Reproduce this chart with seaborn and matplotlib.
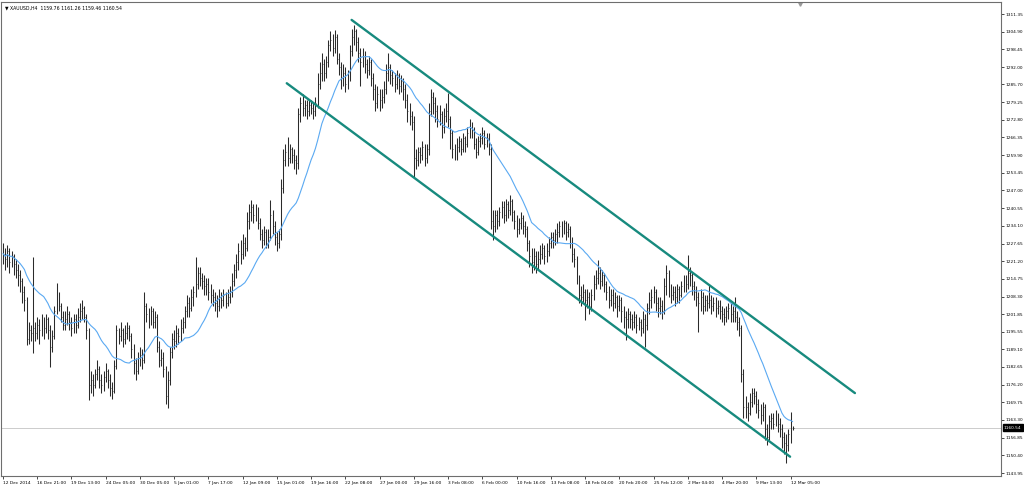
import numpy as np
import pandas as pd
import seaborn as sns
import matplotlib.pyplot as plt
from matplotlib.transforms import blended_transform_factory

# XAUUSD H4 bars, 12 Dec 2014 -> 12 Mar 2015
closes = [
    1224, 1222, 1225, 1221, 1223, 1220, 1218, 1216, 1214, 1210,
    1207, 1193, 1196, 1195, 1197, 1195, 1198, 1196, 1199, 1197,
    1200, 1196, 1190, 1194, 1203, 1209, 1205, 1201, 1198, 1200,
    1202, 1199, 1197, 1200, 1198, 1201, 1203, 1204, 1201, 1196,
    1176, 1178, 1176, 1180, 1182, 1178, 1176, 1179, 1181, 1178,
    1175, 1174, 1183, 1196, 1194, 1196, 1193, 1195, 1197, 1194,
    1189, 1184, 1181, 1186, 1187, 1185, 1205, 1202, 1200, 1203,
    1199, 1201, 1190, 1185, 1186, 1182, 1172, 1178, 1188, 1193,
    1192, 1195, 1194, 1197, 1199, 1203, 1206, 1204, 1208, 1210,
    1213, 1217, 1215, 1214, 1212, 1213, 1210, 1209, 1208, 1206,
    1205, 1208, 1207, 1209, 1206, 1208, 1210, 1214, 1218, 1221,
    1225, 1224, 1228, 1226, 1236, 1239, 1241, 1238, 1240, 1235,
    1231, 1229, 1232, 1228, 1230, 1238, 1234, 1230, 1228, 1231,
    1248, 1258, 1261, 1259, 1262, 1260, 1258, 1257, 1275, 1279,
    1277, 1278, 1276, 1278, 1277, 1276, 1279, 1286, 1290, 1293,
    1290, 1294, 1300, 1302, 1299, 1303, 1295, 1292, 1288, 1290,
    1286, 1289, 1298, 1303, 1305, 1301, 1297, 1294, 1296, 1293,
    1291, 1294, 1288, 1284, 1279, 1282, 1280, 1281, 1284, 1290,
    1292, 1289, 1288, 1286, 1289, 1285, 1287, 1284, 1280, 1276,
    1274, 1272, 1259, 1258, 1261, 1260, 1263, 1259, 1262, 1276,
    1281, 1279, 1276, 1273, 1275, 1270, 1274, 1276, 1273, 1268,
    1262, 1260, 1263, 1265, 1262, 1266, 1264, 1268, 1271, 1269,
    1264, 1261, 1265, 1266, 1268, 1264, 1266, 1262, 1236, 1234,
    1238, 1236, 1239, 1241, 1238, 1242, 1240, 1243, 1239, 1236,
    1233, 1235, 1237, 1234, 1233, 1228, 1223, 1221, 1223, 1220,
    1222, 1224, 1226, 1223, 1225, 1228, 1230, 1229, 1231, 1232,
    1234, 1233, 1235, 1232, 1233, 1228, 1224, 1222, 1215, 1209,
    1208, 1210, 1207, 1208, 1205, 1209, 1213, 1215, 1217, 1214,
    1216, 1213, 1210, 1207, 1209, 1206, 1208, 1205, 1207, 1203,
    1201, 1200, 1202, 1200, 1199, 1201, 1198, 1199, 1197, 1200,
    1198, 1204, 1207, 1208, 1210, 1206, 1204, 1205, 1203, 1212,
    1217, 1211, 1209, 1210, 1208, 1211, 1209, 1212, 1214, 1213,
    1217, 1216, 1212, 1210, 1208, 1206, 1208, 1205, 1207, 1206,
    1207, 1205, 1206, 1204, 1205, 1203, 1202, 1201, 1203, 1204,
    1202, 1203, 1201, 1199, 1197, 1180, 1168, 1168, 1166, 1170,
    1173, 1172, 1169, 1167, 1165, 1168, 1160, 1157, 1163, 1164,
    1162, 1165, 1162, 1160, 1157, 1155, 1154, 1158, 1162, 1160.54,
]
highs = [
    1228, 1226, 1227, 1226, 1225, 1224, 1222, 1220, 1218, 1215,
    1212, 1208, 1199, 1198, 1222.7, 1199, 1201, 1200, 1202, 1201,
    1202, 1201, 1198, 1196, 1205, 1213.2, 1210, 1206, 1203, 1203,
    1205, 1203, 1201, 1202, 1202, 1204, 1206, 1207, 1205, 1202,
    1197, 1181, 1180, 1182, 1185, 1183, 1180, 1181, 1184, 1182,
    1180, 1177, 1185, 1198, 1197, 1199, 1197, 1198, 1199, 1198,
    1195, 1191, 1186, 1188, 1190, 1189, 1210, 1206, 1204, 1205,
    1204, 1203, 1202, 1192, 1189, 1188, 1183, 1181, 1190, 1195,
    1196, 1198, 1197, 1200, 1201, 1205, 1209, 1208, 1211, 1212,
    1222.7, 1219, 1219, 1217, 1216, 1215, 1215, 1213, 1211, 1210,
    1209, 1211, 1210, 1211, 1210, 1211, 1212, 1217, 1220, 1224,
    1228, 1229, 1231, 1230, 1239, 1242, 1243.5, 1242, 1242, 1241,
    1237, 1233, 1234, 1233, 1233, 1243.5, 1240, 1236, 1232, 1233,
    1251, 1262, 1264, 1266.5, 1264, 1263, 1262, 1260, 1277, 1281,
    1282, 1280, 1280, 1280, 1280, 1279, 1281, 1290, 1294, 1297,
    1295, 1296, 1302, 1305, 1304, 1305.5, 1304, 1297, 1294, 1293,
    1292, 1291, 1300, 1306, 1307.3, 1306, 1303, 1299, 1299, 1298,
    1295, 1296, 1295, 1290, 1286, 1285, 1284, 1284, 1287, 1293,
    1297, 1293, 1291, 1290, 1291, 1290, 1289, 1288, 1286, 1282,
    1279, 1276, 1274, 1262, 1263, 1263, 1265, 1264, 1264, 1279,
    1284, 1283, 1281, 1278, 1278, 1276, 1277, 1279, 1282.5, 1274,
    1269, 1264, 1266, 1267, 1266, 1268, 1267, 1270, 1273, 1272,
    1270, 1266, 1267, 1268, 1270, 1269, 1268, 1268, 1264, 1240,
    1240, 1240, 1241, 1243, 1243, 1244, 1243, 1245.3, 1244, 1240,
    1238, 1237, 1239, 1238, 1236, 1234, 1229, 1226, 1226, 1225,
    1225, 1227, 1228, 1227, 1228, 1230, 1232, 1232, 1233, 1235,
    1236, 1236, 1236.2, 1236, 1235, 1234, 1230, 1226, 1223, 1216,
    1212, 1213, 1211, 1211, 1210, 1211, 1216, 1218, 1221.6, 1219,
    1218, 1217, 1214, 1212, 1211, 1211, 1210, 1209, 1209, 1208,
    1205, 1203, 1204, 1203, 1202, 1203, 1202, 1201, 1200, 1203,
    1202, 1206, 1210, 1211, 1212, 1211, 1208, 1208, 1207, 1215,
    1219.8, 1218, 1213, 1212, 1212, 1213, 1212, 1214, 1216, 1216,
    1223.5, 1219, 1217, 1214, 1212, 1210, 1211, 1210, 1209, 1209,
    1213, 1209, 1208, 1208, 1207, 1207, 1205, 1204, 1205, 1206,
    1206, 1205, 1208, 1203, 1201, 1198, 1182, 1172, 1170, 1173,
    1175, 1175, 1174, 1171, 1169, 1170, 1169, 1162, 1165, 1166,
    1166, 1167, 1166, 1164, 1162, 1159, 1158, 1160, 1166.2, 1161.26,
]
lows = [
    1220, 1218, 1219, 1217, 1219, 1216, 1215, 1212, 1210, 1206,
    1203, 1190.6, 1191, 1192, 1187.7, 1192, 1193, 1191, 1194, 1193,
    1195, 1193, 1182.6, 1188, 1193, 1202, 1203, 1199, 1196, 1196,
    1198, 1196, 1194, 1195, 1195, 1197, 1199, 1200, 1199, 1193,
    1170.6, 1173, 1172, 1175, 1178, 1175, 1173, 1174, 1177, 1175,
    1172, 1171, 1173, 1182, 1191, 1192, 1190, 1191, 1193, 1192,
    1186, 1180, 1178, 1180, 1183, 1182, 1184, 1199, 1197, 1198,
    1197, 1197, 1188, 1182.6, 1183, 1179, 1169, 1167.6, 1176, 1186,
    1189, 1190, 1191, 1192, 1195, 1197, 1201, 1201, 1203, 1205,
    1208, 1211, 1212, 1211, 1209, 1209, 1207, 1206, 1205, 1203,
    1201, 1203, 1204, 1205, 1204, 1205, 1206, 1208, 1212, 1215,
    1218, 1220, 1222, 1223, 1225, 1233, 1236, 1235, 1236, 1233,
    1229, 1226, 1227, 1226, 1226, 1229, 1231, 1227, 1225, 1226,
    1229, 1246, 1256, 1256, 1257, 1257, 1255, 1253, 1255, 1272,
    1274, 1274, 1273, 1274, 1275, 1273, 1274, 1277, 1284, 1287,
    1287, 1288, 1292, 1298, 1296, 1297, 1293, 1289, 1284, 1285,
    1283, 1284, 1287, 1296, 1300, 1298, 1294, 1285, 1292, 1290,
    1288, 1289, 1285, 1280, 1276, 1277, 1276, 1277, 1279, 1282,
    1287, 1286, 1285, 1283, 1284, 1282, 1283, 1280, 1277, 1272,
    1271, 1269, 1251.5, 1255, 1256, 1257, 1258, 1256, 1257, 1260,
    1274, 1275, 1272, 1270, 1271, 1266, 1268, 1272, 1270, 1262,
    1259, 1258, 1258, 1261, 1260, 1261, 1261, 1263, 1266, 1266,
    1262, 1259, 1260, 1263, 1264, 1262, 1263, 1260, 1233, 1228.9,
    1232, 1233, 1234, 1237, 1235, 1236, 1237, 1238, 1236, 1233,
    1230, 1231, 1233, 1231, 1230, 1225, 1219, 1217, 1218, 1216.9,
    1218, 1220, 1222, 1220, 1221, 1223, 1226, 1226, 1227, 1228,
    1230, 1230, 1231, 1229, 1230, 1226, 1221, 1219, 1213, 1206,
    1205, 1206, 1199.7, 1204, 1202, 1203, 1207, 1211, 1213, 1211,
    1212, 1210, 1207, 1204, 1205, 1203, 1204, 1201, 1203, 1199,
    1197, 1192.4, 1197, 1197, 1196, 1197, 1195, 1196, 1194, 1195,
    1189.9, 1196, 1202, 1204, 1206, 1203, 1201, 1202, 1200, 1202,
    1209, 1208, 1206, 1207, 1205, 1206, 1206, 1208, 1210, 1210,
    1211, 1212, 1209, 1207, 1205, 1195.4, 1203, 1202, 1203, 1203,
    1204, 1202, 1203, 1201, 1202, 1200, 1199, 1198, 1199, 1200,
    1199, 1199, 1199, 1196, 1194, 1177, 1164, 1164, 1163, 1165,
    1168, 1169, 1166, 1164, 1162, 1163, 1156, 1154, 1156, 1160,
    1160, 1161, 1159, 1157, 1153, 1151, 1147.6, 1152, 1155, 1159.46,
]

price_ticks = [1311.35, 1304.90, 1298.45, 1292.00, 1285.70, 1279.25, 1272.80,
               1266.35, 1259.90, 1253.45, 1247.00, 1240.55, 1234.10, 1227.65,
               1221.20, 1214.75, 1208.30, 1201.85, 1195.55, 1189.10, 1182.65,
               1176.20, 1169.75, 1163.30, 1156.85, 1150.40, 1143.95]
date_labels = ["12 Dec 2014", "16 Dec 21:00", "19 Dec 13:00", "24 Dec 05:00",
               "30 Dec 05:00", "5 Jan 01:00", "7 Jan 17:00", "12 Jan 09:00",
               "15 Jan 01:00", "19 Jan 16:00", "22 Jan 08:00", "27 Jan 00:00",
               "29 Jan 16:00", "3 Feb 08:00", "6 Feb 00:00", "10 Feb 16:00",
               "13 Feb 08:00", "18 Feb 04:00", "20 Feb 20:00", "25 Feb 12:00",
               "2 Mar 04:00", "4 Mar 20:00", "9 Mar 13:00", "12 Mar 05:00"]
bars_per_label = 16

# trend channel drawn on the chart (bar index, price)
lower_bars = [132.6, 367.8]
lower_prices = [1286.1, 1149.9]
upper_bars = [162.9, 398.1]
upper_prices = [1309.2, 1173.1]

last_price = 1160.54
header = "\u25bc XAUUSD,H4  1159.76 1161.26 1159.46 1160.54"

df = pd.DataFrame({"bar": np.arange(len(closes)), "close": closes,
                   "high": highs, "low": lows})
df["ma"] = df["close"].rolling(20, min_periods=1).mean()

sns.set_style("white")
plt.rcParams["font.family"] = ["DejaVu Sans"]

fig = plt.figure(figsize=(10.24, 4.86), dpi=100)
ax = fig.add_axes([1 / 1024, 10 / 486, 1000 / 1024, 474 / 486])

ax.axhline(last_price, color="#c4c4c4", lw=0.6, zorder=0)

# OHLC bars
bar_col = "#2b2b2b"
ax.vlines(df["bar"], df["low"], df["high"], color=bar_col, lw=0.75)
ax.hlines(df["close"], df["bar"], df["bar"] + 0.45, color=bar_col, lw=0.5)

sns.lineplot(data=df, x="bar", y="ma", color="#5aa9f2", lw=0.8, ax=ax)

teal = "#178a7e"
sns.lineplot(x=lower_bars, y=lower_prices, color=teal, lw=1.7, ax=ax)
sns.lineplot(x=upper_bars, y=upper_prices, color=teal, lw=1.7, ax=ax)

ax.set_xlim(-0.935, 466.36)
ax.set_ylim(1142.86, 1315.73)
ax.set_xlabel("")
ax.set_ylabel("")

ax.yaxis.tick_right()
ax.set_yticks(price_ticks)
ax.set_yticklabels([f"{p:.2f}" for p in price_ticks])
ax.set_xticks(np.arange(len(date_labels)) * bars_per_label)
ax.set_xticklabels(date_labels, ha="left")
ax.tick_params(axis="both", length=2.5, width=0.5,
               pad=1, colors="#000000", direction="out")
ax.tick_params(axis="y", right=True, left=False, labelsize=3.1)
ax.tick_params(axis="x", bottom=True, pad=0.8, labelsize=3.15)

for s in ax.spines.values():
    s.set_color("#6e6e6e")
    s.set_linewidth(0.8)

trans = blended_transform_factory(ax.transAxes, ax.transData)
ax.text(1.003, last_price, f"{last_price:.2f}", transform=trans,
        fontsize=3.1, color="white", va="center", ha="left",
        bbox=dict(boxstyle="square,pad=0.25", fc="black", ec="black"))

ax.text(0.004, 0.992, header, transform=ax.transAxes, fontsize=3.3,
        va="top", ha="left", color="#000000")
# chart shift marker
ax.plot([372.5], [1315.0], marker="v", color="#9a9a9a", ms=2.5)

fig.savefig("out.png", dpi=100)
